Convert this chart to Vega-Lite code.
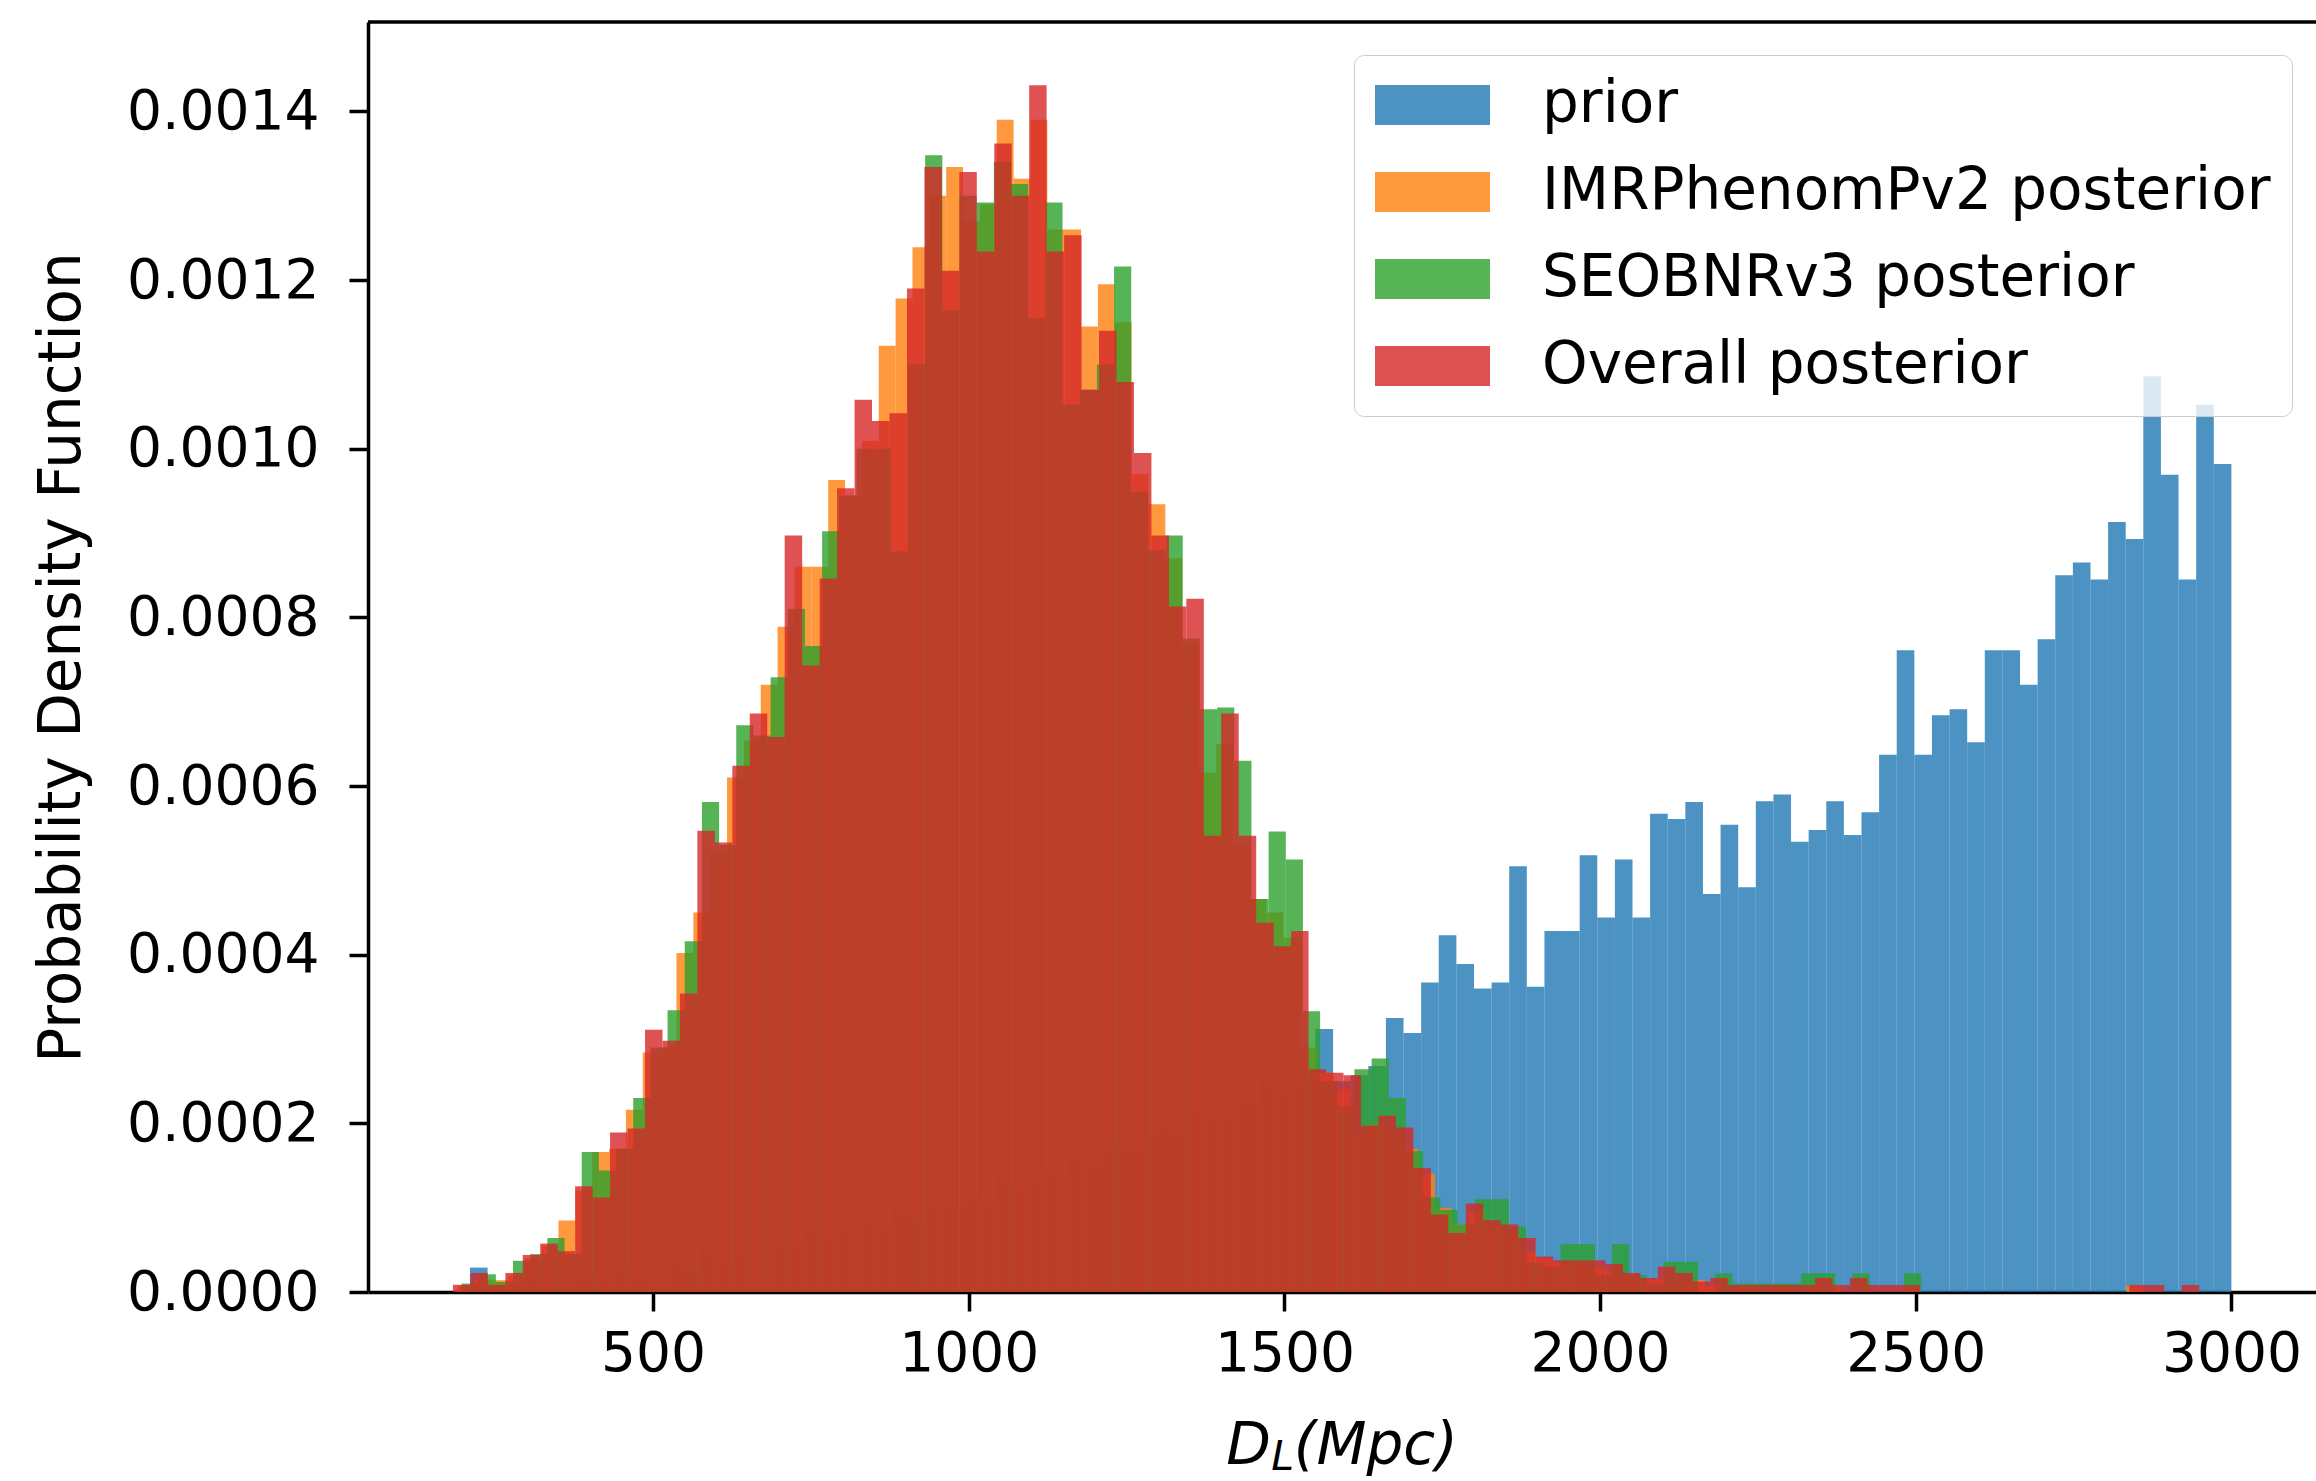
{
"$schema": "https://vega.github.io/schema/vega-lite/v6.json",
"autosize": {"type": "none"},
"padding": {"left": 368, "top": 22, "right": 0, "bottom": 189},
"width": 1948,
"height": 1270,
"background": "white",
"config": {
  "view": {"stroke": null},
  "font": "DejaVu Sans",
  "axis": {"domainColor": "#000000", "domainWidth": 3.5, "tickColor": "#000000", "tickWidth": 3.5, "tickSize": 19, "labelFont": "DejaVu Sans", "labelFontSize": 55, "labelLimit": 500, "labelColor": "#000000", "titleFont": "DejaVu Sans", "titleFontSize": 58, "titleFontWeight": "normal", "titleColor": "#000000", "grid": false}
},
"layer": [
{
"data": {"values": [
{"series":"prior","lo":210.0,"hi":237.9,"density":0.0000289},
{"series":"prior","lo":237.9,"hi":265.8,"density":0.0000072},
{"series":"prior","lo":265.8,"hi":293.7,"density":0.0000072},
{"series":"prior","lo":293.7,"hi":321.6,"density":0.0000145},
{"series":"prior","lo":321.6,"hi":349.5,"density":0.0000072},
{"series":"prior","lo":349.5,"hi":377.4,"density":0.0000145},
{"series":"prior","lo":377.4,"hi":405.3,"density":0.0000217},
{"series":"prior","lo":405.3,"hi":433.2,"density":0.0000145},
{"series":"prior","lo":433.2,"hi":461.1,"density":0.0000289},
{"series":"prior","lo":461.1,"hi":489.0,"density":0.0000217},
{"series":"prior","lo":489.0,"hi":516.9,"density":0.0000289},
{"series":"prior","lo":516.9,"hi":544.8,"density":0.0000361},
{"series":"prior","lo":544.8,"hi":572.7,"density":0.0000289},
{"series":"prior","lo":572.7,"hi":600.6,"density":0.0000434},
{"series":"prior","lo":600.6,"hi":628.5,"density":0.0000361},
{"series":"prior","lo":628.5,"hi":656.4,"density":0.0000506},
{"series":"prior","lo":656.4,"hi":684.3,"density":0.0000434},
{"series":"prior","lo":684.3,"hi":712.2,"density":0.0000578},
{"series":"prior","lo":712.2,"hi":740.1,"density":0.0000578},
{"series":"prior","lo":740.1,"hi":768.0,"density":0.0000723},
{"series":"prior","lo":768.0,"hi":795.9,"density":0.000065},
{"series":"prior","lo":795.9,"hi":823.8,"density":0.0000723},
{"series":"prior","lo":823.8,"hi":851.7,"density":0.0000795},
{"series":"prior","lo":851.7,"hi":879.6,"density":0.0000795},
{"series":"prior","lo":879.6,"hi":907.5,"density":0.000094},
{"series":"prior","lo":907.5,"hi":935.4,"density":0.0000867},
{"series":"prior","lo":935.4,"hi":963.3,"density":0.000108},
{"series":"prior","lo":963.3,"hi":991.2,"density":0.000101},
{"series":"prior","lo":991.2,"hi":1019.1,"density":0.000116},
{"series":"prior","lo":1019.1,"hi":1047.0,"density":0.000108},
{"series":"prior","lo":1047.0,"hi":1074.9,"density":0.00013},
{"series":"prior","lo":1074.9,"hi":1102.8,"density":0.000123},
{"series":"prior","lo":1102.8,"hi":1130.7,"density":0.000145},
{"series":"prior","lo":1130.7,"hi":1158.6,"density":0.000137},
{"series":"prior","lo":1158.6,"hi":1186.5,"density":0.000159},
{"series":"prior","lo":1186.5,"hi":1214.4,"density":0.000152},
{"series":"prior","lo":1214.4,"hi":1242.3,"density":0.000173},
{"series":"prior","lo":1242.3,"hi":1270.2,"density":0.000166},
{"series":"prior","lo":1270.2,"hi":1298.1,"density":0.000188},
{"series":"prior","lo":1298.1,"hi":1326.0,"density":0.000195},
{"series":"prior","lo":1326.0,"hi":1353.9,"density":0.000188},
{"series":"prior","lo":1353.9,"hi":1381.8,"density":0.000217},
{"series":"prior","lo":1381.8,"hi":1409.7,"density":0.00021},
{"series":"prior","lo":1409.7,"hi":1437.6,"density":0.000232},
{"series":"prior","lo":1437.6,"hi":1465.5,"density":0.000224},
{"series":"prior","lo":1465.5,"hi":1493.4,"density":0.000246},
{"series":"prior","lo":1493.4,"hi":1521.3,"density":0.000239},
{"series":"prior","lo":1521.3,"hi":1549.2,"density":0.000253},
{"series":"prior","lo":1549.2,"hi":1577.1,"density":0.000312},
{"series":"prior","lo":1577.1,"hi":1605.0,"density":0.00025},
{"series":"prior","lo":1605.0,"hi":1632.9,"density":0.000257},
{"series":"prior","lo":1632.9,"hi":1660.8,"density":0.000268},
{"series":"prior","lo":1660.8,"hi":1688.7,"density":0.000325},
{"series":"prior","lo":1688.7,"hi":1716.6,"density":0.000307},
{"series":"prior","lo":1716.6,"hi":1744.5,"density":0.000367},
{"series":"prior","lo":1744.5,"hi":1772.4,"density":0.000423},
{"series":"prior","lo":1772.4,"hi":1800.3,"density":0.000389},
{"series":"prior","lo":1800.3,"hi":1828.2,"density":0.00036},
{"series":"prior","lo":1828.2,"hi":1856.1,"density":0.000367},
{"series":"prior","lo":1856.1,"hi":1884.0,"density":0.000505},
{"series":"prior","lo":1884.0,"hi":1911.9,"density":0.000362},
{"series":"prior","lo":1911.9,"hi":1939.8,"density":0.000428},
{"series":"prior","lo":1939.8,"hi":1967.7,"density":0.000428},
{"series":"prior","lo":1967.7,"hi":1995.6,"density":0.000518},
{"series":"prior","lo":1995.6,"hi":2023.5,"density":0.000444},
{"series":"prior","lo":2023.5,"hi":2051.4,"density":0.000513},
{"series":"prior","lo":2051.4,"hi":2079.3,"density":0.000444},
{"series":"prior","lo":2079.3,"hi":2107.2,"density":0.000567},
{"series":"prior","lo":2107.2,"hi":2135.1,"density":0.000561},
{"series":"prior","lo":2135.1,"hi":2163.0,"density":0.000581},
{"series":"prior","lo":2163.0,"hi":2190.9,"density":0.000472},
{"series":"prior","lo":2190.9,"hi":2218.8,"density":0.000554},
{"series":"prior","lo":2218.8,"hi":2246.7,"density":0.00048},
{"series":"prior","lo":2246.7,"hi":2274.6,"density":0.000582},
{"series":"prior","lo":2274.6,"hi":2302.5,"density":0.00059},
{"series":"prior","lo":2302.5,"hi":2330.4,"density":0.000534},
{"series":"prior","lo":2330.4,"hi":2358.3,"density":0.000548},
{"series":"prior","lo":2358.3,"hi":2386.2,"density":0.000582},
{"series":"prior","lo":2386.2,"hi":2414.1,"density":0.000542},
{"series":"prior","lo":2414.1,"hi":2442.0,"density":0.000569},
{"series":"prior","lo":2442.0,"hi":2469.9,"density":0.000637},
{"series":"prior","lo":2469.9,"hi":2497.8,"density":0.000761},
{"series":"prior","lo":2497.8,"hi":2525.7,"density":0.000637},
{"series":"prior","lo":2525.7,"hi":2553.6,"density":0.000684},
{"series":"prior","lo":2553.6,"hi":2581.5,"density":0.000691},
{"series":"prior","lo":2581.5,"hi":2609.4,"density":0.000652},
{"series":"prior","lo":2609.4,"hi":2637.3,"density":0.000761},
{"series":"prior","lo":2637.3,"hi":2665.2,"density":0.000761},
{"series":"prior","lo":2665.2,"hi":2693.1,"density":0.00072},
{"series":"prior","lo":2693.1,"hi":2721.0,"density":0.000774},
{"series":"prior","lo":2721.0,"hi":2748.9,"density":0.00085},
{"series":"prior","lo":2748.9,"hi":2776.8,"density":0.000865},
{"series":"prior","lo":2776.8,"hi":2804.7,"density":0.000845},
{"series":"prior","lo":2804.7,"hi":2832.6,"density":0.000913},
{"series":"prior","lo":2832.6,"hi":2860.5,"density":0.000893},
{"series":"prior","lo":2860.5,"hi":2888.4,"density":0.001086},
{"series":"prior","lo":2888.4,"hi":2916.3,"density":0.000969},
{"series":"prior","lo":2916.3,"hi":2944.2,"density":0.000845},
{"series":"prior","lo":2944.2,"hi":2972.1,"density":0.001052},
{"series":"prior","lo":2972.1,"hi":3000.0,"density":0.000982},
{"series":"IMRPhenomPv2 posterior","lo":190.0,"hi":216.7,"density":0.0000075},
{"series":"IMRPhenomPv2 posterior","lo":216.7,"hi":243.4,"density":0.000015},
{"series":"IMRPhenomPv2 posterior","lo":243.4,"hi":270.1,"density":0.000014},
{"series":"IMRPhenomPv2 posterior","lo":270.1,"hi":296.8,"density":0.00002},
{"series":"IMRPhenomPv2 posterior","lo":296.8,"hi":323.5,"density":0.00004},
{"series":"IMRPhenomPv2 posterior","lo":323.5,"hi":350.2,"density":0.000055},
{"series":"IMRPhenomPv2 posterior","lo":350.2,"hi":376.9,"density":0.0000847},
{"series":"IMRPhenomPv2 posterior","lo":376.9,"hi":403.6,"density":0.00012},
{"series":"IMRPhenomPv2 posterior","lo":403.6,"hi":430.3,"density":0.000166},
{"series":"IMRPhenomPv2 posterior","lo":430.3,"hi":457.0,"density":0.00017},
{"series":"IMRPhenomPv2 posterior","lo":457.0,"hi":483.7,"density":0.000216},
{"series":"IMRPhenomPv2 posterior","lo":483.7,"hi":510.4,"density":0.000284},
{"series":"IMRPhenomPv2 posterior","lo":510.4,"hi":537.1,"density":0.00029},
{"series":"IMRPhenomPv2 posterior","lo":537.1,"hi":563.8,"density":0.000402},
{"series":"IMRPhenomPv2 posterior","lo":563.8,"hi":590.5,"density":0.00045},
{"series":"IMRPhenomPv2 posterior","lo":590.5,"hi":617.2,"density":0.00052},
{"series":"IMRPhenomPv2 posterior","lo":617.2,"hi":643.9,"density":0.00061},
{"series":"IMRPhenomPv2 posterior","lo":643.9,"hi":670.6,"density":0.000654},
{"series":"IMRPhenomPv2 posterior","lo":670.6,"hi":697.3,"density":0.00072},
{"series":"IMRPhenomPv2 posterior","lo":697.3,"hi":724.0,"density":0.000789},
{"series":"IMRPhenomPv2 posterior","lo":724.0,"hi":750.7,"density":0.00086},
{"series":"IMRPhenomPv2 posterior","lo":750.7,"hi":777.4,"density":0.00086},
{"series":"IMRPhenomPv2 posterior","lo":777.4,"hi":804.1,"density":0.000963},
{"series":"IMRPhenomPv2 posterior","lo":804.1,"hi":830.8,"density":0.000945},
{"series":"IMRPhenomPv2 posterior","lo":830.8,"hi":857.5,"density":0.001009},
{"series":"IMRPhenomPv2 posterior","lo":857.5,"hi":884.2,"density":0.001122},
{"series":"IMRPhenomPv2 posterior","lo":884.2,"hi":910.9,"density":0.001178},
{"series":"IMRPhenomPv2 posterior","lo":910.9,"hi":937.6,"density":0.001239},
{"series":"IMRPhenomPv2 posterior","lo":937.6,"hi":964.3,"density":0.0013},
{"series":"IMRPhenomPv2 posterior","lo":964.3,"hi":991.0,"density":0.001334},
{"series":"IMRPhenomPv2 posterior","lo":991.0,"hi":1017.7,"density":0.00127},
{"series":"IMRPhenomPv2 posterior","lo":1017.7,"hi":1044.4,"density":0.00129},
{"series":"IMRPhenomPv2 posterior","lo":1044.4,"hi":1071.1,"density":0.00139},
{"series":"IMRPhenomPv2 posterior","lo":1071.1,"hi":1097.8,"density":0.00132},
{"series":"IMRPhenomPv2 posterior","lo":1097.8,"hi":1124.5,"density":0.00139},
{"series":"IMRPhenomPv2 posterior","lo":1124.5,"hi":1151.2,"density":0.00126},
{"series":"IMRPhenomPv2 posterior","lo":1151.2,"hi":1177.9,"density":0.00126},
{"series":"IMRPhenomPv2 posterior","lo":1177.9,"hi":1204.6,"density":0.001145},
{"series":"IMRPhenomPv2 posterior","lo":1204.6,"hi":1231.3,"density":0.001195},
{"series":"IMRPhenomPv2 posterior","lo":1231.3,"hi":1258.0,"density":0.00115},
{"series":"IMRPhenomPv2 posterior","lo":1258.0,"hi":1284.7,"density":0.00097},
{"series":"IMRPhenomPv2 posterior","lo":1284.7,"hi":1311.4,"density":0.000934},
{"series":"IMRPhenomPv2 posterior","lo":1311.4,"hi":1338.1,"density":0.00087},
{"series":"IMRPhenomPv2 posterior","lo":1338.1,"hi":1364.8,"density":0.00077},
{"series":"IMRPhenomPv2 posterior","lo":1364.8,"hi":1391.5,"density":0.000616},
{"series":"IMRPhenomPv2 posterior","lo":1391.5,"hi":1418.2,"density":0.00065},
{"series":"IMRPhenomPv2 posterior","lo":1418.2,"hi":1444.9,"density":0.00053},
{"series":"IMRPhenomPv2 posterior","lo":1444.9,"hi":1471.6,"density":0.000466},
{"series":"IMRPhenomPv2 posterior","lo":1471.6,"hi":1498.3,"density":0.00045},
{"series":"IMRPhenomPv2 posterior","lo":1498.3,"hi":1525.0,"density":0.00042},
{"series":"IMRPhenomPv2 posterior","lo":1525.0,"hi":1551.7,"density":0.00029},
{"series":"IMRPhenomPv2 posterior","lo":1551.7,"hi":1578.4,"density":0.00026},
{"series":"IMRPhenomPv2 posterior","lo":1578.4,"hi":1605.1,"density":0.00024},
{"series":"IMRPhenomPv2 posterior","lo":1605.1,"hi":1631.8,"density":0.00019},
{"series":"IMRPhenomPv2 posterior","lo":1631.8,"hi":1658.5,"density":0.0002},
{"series":"IMRPhenomPv2 posterior","lo":1658.5,"hi":1685.2,"density":0.00019},
{"series":"IMRPhenomPv2 posterior","lo":1685.2,"hi":1711.9,"density":0.00017},
{"series":"IMRPhenomPv2 posterior","lo":1711.9,"hi":1738.6,"density":0.00014},
{"series":"IMRPhenomPv2 posterior","lo":1738.6,"hi":1765.3,"density":0.0001},
{"series":"IMRPhenomPv2 posterior","lo":1765.3,"hi":1792.0,"density":0.00008},
{"series":"IMRPhenomPv2 posterior","lo":1792.0,"hi":1818.7,"density":0.000095},
{"series":"IMRPhenomPv2 posterior","lo":1818.7,"hi":1845.4,"density":0.00008},
{"series":"IMRPhenomPv2 posterior","lo":1845.4,"hi":1872.1,"density":0.00007},
{"series":"IMRPhenomPv2 posterior","lo":1872.1,"hi":1898.8,"density":0.0000475},
{"series":"IMRPhenomPv2 posterior","lo":1898.8,"hi":1925.5,"density":0.00004},
{"series":"IMRPhenomPv2 posterior","lo":1925.5,"hi":1952.2,"density":0.000035},
{"series":"IMRPhenomPv2 posterior","lo":1952.2,"hi":1978.9,"density":0.000035},
{"series":"IMRPhenomPv2 posterior","lo":1978.9,"hi":2005.6,"density":0.00003},
{"series":"IMRPhenomPv2 posterior","lo":2005.6,"hi":2032.3,"density":0.000025},
{"series":"IMRPhenomPv2 posterior","lo":2032.3,"hi":2059.0,"density":0.00002},
{"series":"IMRPhenomPv2 posterior","lo":2059.0,"hi":2085.7,"density":0.0000142},
{"series":"IMRPhenomPv2 posterior","lo":2085.7,"hi":2112.4,"density":0.000015},
{"series":"IMRPhenomPv2 posterior","lo":2112.4,"hi":2139.1,"density":0.00001},
{"series":"IMRPhenomPv2 posterior","lo":2139.1,"hi":2165.8,"density":0.0000142},
{"series":"IMRPhenomPv2 posterior","lo":2165.8,"hi":2192.5,"density":0.0000075},
{"series":"IMRPhenomPv2 posterior","lo":2219.2,"hi":2245.9,"density":0.0000083},
{"series":"IMRPhenomPv2 posterior","lo":2272.6,"hi":2299.3,"density":0.0000075},
{"series":"IMRPhenomPv2 posterior","lo":2326.0,"hi":2352.7,"density":0.0000075},
{"series":"IMRPhenomPv2 posterior","lo":2352.7,"hi":2379.4,"density":0.0000075},
{"series":"IMRPhenomPv2 posterior","lo":2833.3,"hi":2860.0,"density":0.0000075},
{"series":"SEOBNRv3 posterior","lo":196.6,"hi":223.8,"density":0.00001},
{"series":"SEOBNRv3 posterior","lo":223.8,"hi":251.0,"density":0.000021},
{"series":"SEOBNRv3 posterior","lo":251.0,"hi":278.2,"density":0.000012},
{"series":"SEOBNRv3 posterior","lo":278.2,"hi":305.4,"density":0.000037},
{"series":"SEOBNRv3 posterior","lo":305.4,"hi":332.6,"density":0.000045},
{"series":"SEOBNRv3 posterior","lo":332.6,"hi":359.8,"density":0.000064},
{"series":"SEOBNRv3 posterior","lo":359.8,"hi":387.0,"density":0.000045},
{"series":"SEOBNRv3 posterior","lo":387.0,"hi":414.2,"density":0.000166},
{"series":"SEOBNRv3 posterior","lo":414.2,"hi":441.4,"density":0.000144},
{"series":"SEOBNRv3 posterior","lo":441.4,"hi":468.6,"density":0.00017},
{"series":"SEOBNRv3 posterior","lo":468.6,"hi":495.8,"density":0.00023},
{"series":"SEOBNRv3 posterior","lo":495.8,"hi":523.0,"density":0.00029},
{"series":"SEOBNRv3 posterior","lo":523.0,"hi":550.2,"density":0.000334},
{"series":"SEOBNRv3 posterior","lo":550.2,"hi":577.4,"density":0.000416},
{"series":"SEOBNRv3 posterior","lo":577.4,"hi":604.6,"density":0.000581},
{"series":"SEOBNRv3 posterior","lo":604.6,"hi":631.8,"density":0.00053},
{"series":"SEOBNRv3 posterior","lo":631.8,"hi":659.0,"density":0.000672},
{"series":"SEOBNRv3 posterior","lo":659.0,"hi":686.2,"density":0.00066},
{"series":"SEOBNRv3 posterior","lo":686.2,"hi":713.4,"density":0.000729},
{"series":"SEOBNRv3 posterior","lo":713.4,"hi":740.6,"density":0.00081},
{"series":"SEOBNRv3 posterior","lo":740.6,"hi":767.8,"density":0.000766},
{"series":"SEOBNRv3 posterior","lo":767.8,"hi":795.0,"density":0.000902},
{"series":"SEOBNRv3 posterior","lo":795.0,"hi":822.2,"density":0.000944},
{"series":"SEOBNRv3 posterior","lo":822.2,"hi":849.4,"density":0.001},
{"series":"SEOBNRv3 posterior","lo":849.4,"hi":876.6,"density":0.001},
{"series":"SEOBNRv3 posterior","lo":876.6,"hi":903.8,"density":0.000878},
{"series":"SEOBNRv3 posterior","lo":903.8,"hi":931.0,"density":0.0011},
{"series":"SEOBNRv3 posterior","lo":931.0,"hi":958.2,"density":0.001348},
{"series":"SEOBNRv3 posterior","lo":958.2,"hi":985.4,"density":0.001164},
{"series":"SEOBNRv3 posterior","lo":985.4,"hi":1012.6,"density":0.0013},
{"series":"SEOBNRv3 posterior","lo":1012.6,"hi":1039.8,"density":0.001292},
{"series":"SEOBNRv3 posterior","lo":1039.8,"hi":1067.0,"density":0.00134},
{"series":"SEOBNRv3 posterior","lo":1067.0,"hi":1094.2,"density":0.001314},
{"series":"SEOBNRv3 posterior","lo":1094.2,"hi":1121.4,"density":0.001155},
{"series":"SEOBNRv3 posterior","lo":1121.4,"hi":1148.6,"density":0.001292},
{"series":"SEOBNRv3 posterior","lo":1148.6,"hi":1175.8,"density":0.001052},
{"series":"SEOBNRv3 posterior","lo":1175.8,"hi":1203.0,"density":0.00107},
{"series":"SEOBNRv3 posterior","lo":1203.0,"hi":1230.2,"density":0.0011},
{"series":"SEOBNRv3 posterior","lo":1230.2,"hi":1257.4,"density":0.001216},
{"series":"SEOBNRv3 posterior","lo":1257.4,"hi":1284.6,"density":0.000949},
{"series":"SEOBNRv3 posterior","lo":1284.6,"hi":1311.8,"density":0.00088},
{"series":"SEOBNRv3 posterior","lo":1311.8,"hi":1339.0,"density":0.000897},
{"series":"SEOBNRv3 posterior","lo":1339.0,"hi":1366.2,"density":0.000775},
{"series":"SEOBNRv3 posterior","lo":1366.2,"hi":1393.4,"density":0.000691},
{"series":"SEOBNRv3 posterior","lo":1393.4,"hi":1420.6,"density":0.000693},
{"series":"SEOBNRv3 posterior","lo":1420.6,"hi":1447.8,"density":0.00063},
{"series":"SEOBNRv3 posterior","lo":1447.8,"hi":1475.0,"density":0.000466},
{"series":"SEOBNRv3 posterior","lo":1475.0,"hi":1502.2,"density":0.000546},
{"series":"SEOBNRv3 posterior","lo":1502.2,"hi":1529.4,"density":0.000513},
{"series":"SEOBNRv3 posterior","lo":1529.4,"hi":1556.6,"density":0.000333},
{"series":"SEOBNRv3 posterior","lo":1556.6,"hi":1583.8,"density":0.00025},
{"series":"SEOBNRv3 posterior","lo":1583.8,"hi":1611.0,"density":0.00022},
{"series":"SEOBNRv3 posterior","lo":1611.0,"hi":1638.2,"density":0.000264},
{"series":"SEOBNRv3 posterior","lo":1638.2,"hi":1665.4,"density":0.000277},
{"series":"SEOBNRv3 posterior","lo":1665.4,"hi":1692.6,"density":0.00023},
{"series":"SEOBNRv3 posterior","lo":1692.6,"hi":1719.8,"density":0.000167},
{"series":"SEOBNRv3 posterior","lo":1719.8,"hi":1747.0,"density":0.000112},
{"series":"SEOBNRv3 posterior","lo":1747.0,"hi":1774.2,"density":0.0000973},
{"series":"SEOBNRv3 posterior","lo":1774.2,"hi":1801.4,"density":0.00008},
{"series":"SEOBNRv3 posterior","lo":1801.4,"hi":1828.6,"density":0.00011},
{"series":"SEOBNRv3 posterior","lo":1828.6,"hi":1855.8,"density":0.00011},
{"series":"SEOBNRv3 posterior","lo":1855.8,"hi":1883.0,"density":0.0000773},
{"series":"SEOBNRv3 posterior","lo":1883.0,"hi":1910.2,"density":0.000035},
{"series":"SEOBNRv3 posterior","lo":1910.2,"hi":1937.4,"density":0.00003},
{"series":"SEOBNRv3 posterior","lo":1937.4,"hi":1964.6,"density":0.0000568},
{"series":"SEOBNRv3 posterior","lo":1964.6,"hi":1991.8,"density":0.0000568},
{"series":"SEOBNRv3 posterior","lo":1991.8,"hi":2019.0,"density":0.00002},
{"series":"SEOBNRv3 posterior","lo":2019.0,"hi":2046.2,"density":0.0000568},
{"series":"SEOBNRv3 posterior","lo":2046.2,"hi":2073.4,"density":0.00002},
{"series":"SEOBNRv3 posterior","lo":2073.4,"hi":2100.6,"density":0.00001},
{"series":"SEOBNRv3 posterior","lo":2100.6,"hi":2127.8,"density":0.0000359},
{"series":"SEOBNRv3 posterior","lo":2127.8,"hi":2155.0,"density":0.0000359},
{"series":"SEOBNRv3 posterior","lo":2182.2,"hi":2209.4,"density":0.0000221},
{"series":"SEOBNRv3 posterior","lo":2209.4,"hi":2236.6,"density":0.00001},
{"series":"SEOBNRv3 posterior","lo":2236.6,"hi":2263.8,"density":0.00001},
{"series":"SEOBNRv3 posterior","lo":2263.8,"hi":2291.0,"density":0.00001},
{"series":"SEOBNRv3 posterior","lo":2291.0,"hi":2318.2,"density":0.00001},
{"series":"SEOBNRv3 posterior","lo":2318.2,"hi":2345.4,"density":0.0000221},
{"series":"SEOBNRv3 posterior","lo":2345.4,"hi":2372.6,"density":0.0000221},
{"series":"SEOBNRv3 posterior","lo":2399.8,"hi":2427.0,"density":0.0000221},
{"series":"SEOBNRv3 posterior","lo":2481.4,"hi":2508.6,"density":0.0000221},
{"series":"Overall posterior","lo":183.0,"hi":210.7,"density":0.0000085},
{"series":"Overall posterior","lo":210.7,"hi":238.3,"density":0.0000226},
{"series":"Overall posterior","lo":238.3,"hi":266.0,"density":0.0000085},
{"series":"Overall posterior","lo":266.0,"hi":293.6,"density":0.0000226},
{"series":"Overall posterior","lo":293.6,"hi":321.3,"density":0.000044},
{"series":"Overall posterior","lo":321.3,"hi":349.0,"density":0.0000574},
{"series":"Overall posterior","lo":349.0,"hi":376.6,"density":0.0000484},
{"series":"Overall posterior","lo":376.6,"hi":404.3,"density":0.0001254},
{"series":"Overall posterior","lo":404.3,"hi":431.9,"density":0.000112},
{"series":"Overall posterior","lo":431.9,"hi":459.6,"density":0.000189},
{"series":"Overall posterior","lo":459.6,"hi":487.3,"density":0.000194},
{"series":"Overall posterior","lo":487.3,"hi":514.9,"density":0.000311},
{"series":"Overall posterior","lo":514.9,"hi":542.6,"density":0.000298},
{"series":"Overall posterior","lo":542.6,"hi":570.2,"density":0.000354},
{"series":"Overall posterior","lo":570.2,"hi":597.9,"density":0.000547},
{"series":"Overall posterior","lo":597.9,"hi":625.6,"density":0.000533},
{"series":"Overall posterior","lo":625.6,"hi":653.2,"density":0.000624},
{"series":"Overall posterior","lo":653.2,"hi":680.9,"density":0.000686},
{"series":"Overall posterior","lo":680.9,"hi":708.5,"density":0.000658},
{"series":"Overall posterior","lo":708.5,"hi":736.2,"density":0.000897},
{"series":"Overall posterior","lo":736.2,"hi":763.9,"density":0.000743},
{"series":"Overall posterior","lo":763.9,"hi":791.5,"density":0.000846},
{"series":"Overall posterior","lo":791.5,"hi":819.2,"density":0.000953},
{"series":"Overall posterior","lo":819.2,"hi":846.8,"density":0.001058},
{"series":"Overall posterior","lo":846.8,"hi":874.5,"density":0.001033},
{"series":"Overall posterior","lo":874.5,"hi":902.2,"density":0.001042},
{"series":"Overall posterior","lo":902.2,"hi":929.8,"density":0.00119},
{"series":"Overall posterior","lo":929.8,"hi":957.5,"density":0.001334},
{"series":"Overall posterior","lo":957.5,"hi":985.1,"density":0.001211},
{"series":"Overall posterior","lo":985.1,"hi":1012.8,"density":0.001328},
{"series":"Overall posterior","lo":1012.8,"hi":1040.5,"density":0.001234},
{"series":"Overall posterior","lo":1040.5,"hi":1068.1,"density":0.001362},
{"series":"Overall posterior","lo":1068.1,"hi":1095.8,"density":0.0013},
{"series":"Overall posterior","lo":1095.8,"hi":1123.4,"density":0.001431},
{"series":"Overall posterior","lo":1123.4,"hi":1151.1,"density":0.001234},
{"series":"Overall posterior","lo":1151.1,"hi":1178.8,"density":0.001253},
{"series":"Overall posterior","lo":1178.8,"hi":1206.4,"density":0.00107},
{"series":"Overall posterior","lo":1206.4,"hi":1234.1,"density":0.00114},
{"series":"Overall posterior","lo":1234.1,"hi":1261.7,"density":0.001079},
{"series":"Overall posterior","lo":1261.7,"hi":1289.4,"density":0.000995},
{"series":"Overall posterior","lo":1289.4,"hi":1317.1,"density":0.000897},
{"series":"Overall posterior","lo":1317.1,"hi":1344.7,"density":0.000813},
{"series":"Overall posterior","lo":1344.7,"hi":1372.4,"density":0.000822},
{"series":"Overall posterior","lo":1372.4,"hi":1400.0,"density":0.000541},
{"series":"Overall posterior","lo":1400.0,"hi":1427.7,"density":0.000686},
{"series":"Overall posterior","lo":1427.7,"hi":1455.4,"density":0.000541},
{"series":"Overall posterior","lo":1455.4,"hi":1483.0,"density":0.000438},
{"series":"Overall posterior","lo":1483.0,"hi":1510.7,"density":0.00041},
{"series":"Overall posterior","lo":1510.7,"hi":1538.3,"density":0.000428},
{"series":"Overall posterior","lo":1538.3,"hi":1566.0,"density":0.000264},
{"series":"Overall posterior","lo":1566.0,"hi":1593.7,"density":0.00026},
{"series":"Overall posterior","lo":1593.7,"hi":1621.3,"density":0.000257},
{"series":"Overall posterior","lo":1621.3,"hi":1649.0,"density":0.000197},
{"series":"Overall posterior","lo":1649.0,"hi":1676.6,"density":0.000209},
{"series":"Overall posterior","lo":1676.6,"hi":1704.3,"density":0.000195},
{"series":"Overall posterior","lo":1704.3,"hi":1732.0,"density":0.000147},
{"series":"Overall posterior","lo":1732.0,"hi":1759.6,"density":0.000092},
{"series":"Overall posterior","lo":1759.6,"hi":1787.3,"density":0.00007},
{"series":"Overall posterior","lo":1787.3,"hi":1814.9,"density":0.000105},
{"series":"Overall posterior","lo":1814.9,"hi":1842.6,"density":0.000085},
{"series":"Overall posterior","lo":1842.6,"hi":1870.3,"density":0.00008},
{"series":"Overall posterior","lo":1870.3,"hi":1897.9,"density":0.000064},
{"series":"Overall posterior","lo":1897.9,"hi":1925.6,"density":0.000042},
{"series":"Overall posterior","lo":1925.6,"hi":1953.2,"density":0.0000375},
{"series":"Overall posterior","lo":1953.2,"hi":1980.9,"density":0.0000375},
{"series":"Overall posterior","lo":1980.9,"hi":2008.6,"density":0.0000375},
{"series":"Overall posterior","lo":2008.6,"hi":2036.2,"density":0.0000332},
{"series":"Overall posterior","lo":2036.2,"hi":2063.9,"density":0.0000225},
{"series":"Overall posterior","lo":2063.9,"hi":2091.5,"density":0.0000166},
{"series":"Overall posterior","lo":2091.5,"hi":2119.2,"density":0.00003},
{"series":"Overall posterior","lo":2119.2,"hi":2146.9,"density":0.0000225},
{"series":"Overall posterior","lo":2146.9,"hi":2174.5,"density":0.0000125},
{"series":"Overall posterior","lo":2174.5,"hi":2202.2,"density":0.0000166},
{"series":"Overall posterior","lo":2202.2,"hi":2229.8,"density":0.0000083},
{"series":"Overall posterior","lo":2229.8,"hi":2257.5,"density":0.0000083},
{"series":"Overall posterior","lo":2257.5,"hi":2285.2,"density":0.0000083},
{"series":"Overall posterior","lo":2285.2,"hi":2312.8,"density":0.0000083},
{"series":"Overall posterior","lo":2312.8,"hi":2340.5,"density":0.0000083},
{"series":"Overall posterior","lo":2340.5,"hi":2368.1,"density":0.0000166},
{"series":"Overall posterior","lo":2368.1,"hi":2395.8,"density":0.0000083},
{"series":"Overall posterior","lo":2395.8,"hi":2423.5,"density":0.0000166},
{"series":"Overall posterior","lo":2423.5,"hi":2451.1,"density":0.0000083},
{"series":"Overall posterior","lo":2451.1,"hi":2478.8,"density":0.0000083},
{"series":"Overall posterior","lo":2478.8,"hi":2506.4,"density":0.0000083},
{"series":"Overall posterior","lo":2838.4,"hi":2866.0,"density":0.0000083},
{"series":"Overall posterior","lo":2866.0,"hi":2893.7,"density":0.0000083},
{"series":"Overall posterior","lo":2921.3,"hi":2949.0,"density":0.0000083}
]},
"mark": {"type": "rect", "opacity": 0.8, "strokeWidth": 0},
"encoding": {
  "x": {"field": "lo", "type": "quantitative", "scale": {"domain": [48.5, 3134], "nice": false, "zero": false},
        "axis": {"values": [500, 1000, 1500, 2000, 2500, 3000], "format": "d", "title": null, "labelPadding": 16, "labelFlush": false, "labelOverlap": false}},
  "x2": {"field": "hi"},
  "y": {"field": "density", "type": "quantitative", "stack": null, "scale": {"domain": [0, 0.001506], "nice": false},
        "axis": {"values": [0, 0.0002, 0.0004, 0.0006, 0.0008, 0.001, 0.0012, 0.0014], "format": ".4f", "title": "Probability Density Function", "titlePadding": 77, "labelPadding": 30, "labelFlush": false, "labelOverlap": false}},
  "y2": {"datum": 0},
  "color": {"field": "series", "type": "nominal",
    "scale": {"domain": ["prior", "IMRPhenomPv2 posterior", "SEOBNRv3 posterior", "Overall posterior"], "range": ["#1f77b4", "#ff7f0e", "#2ca02c", "#d62728"]},
    "legend": {"title": null, "orient": "none", "legendX": 986, "legendY": 33, "direction": "vertical",
      "symbolType": "M-1.45,-1H4.3V1H-1.45Z", "symbolSize": 1600, "symbolOpacity": 0.8, "symbolStrokeWidth": 0,
      "labelFont": "DejaVu Sans", "labelFontSize": 58, "labelColor": "#000000", "labelOffset": 109, "labelLimit": 2000,
      "rowPadding": 29, "padding": 21, "fillColor": "rgba(255,255,255,0.8)", "strokeColor": "#cccccc", "cornerRadius": 10}}
}
},
{
"data": {"values": [{}]},
"mark": {"type": "rule", "color": "#000000", "strokeWidth": 3.5},
"encoding": {"y": {"datum": 0.001506}}
},
{
"data": {"values": [{}]},
"mark": {"type": "text", "text": "D", "font": "DejaVu Sans", "fontStyle": "italic", "fontSize": 58, "align": "left", "baseline": "alphabetic", "color": "#000000"},
"encoding": {"x": {"datum": 1408}, "y": {"datum": -0.000204}}
},
{
"data": {"values": [{}]},
"mark": {"type": "text", "text": "L", "font": "DejaVu Sans", "fontStyle": "italic", "fontSize": 41, "align": "left", "baseline": "alphabetic", "color": "#000000"},
"encoding": {"x": {"datum": 1479}, "y": {"datum": -0.000211}}
},
{
"data": {"values": [{}]},
"mark": {"type": "text", "text": "(Mpc)", "font": "DejaVu Sans", "fontStyle": "italic", "fontSize": 58, "align": "left", "baseline": "alphabetic", "color": "#000000"},
"encoding": {"x": {"datum": 1515}, "y": {"datum": -0.000204}}
}
]
}
